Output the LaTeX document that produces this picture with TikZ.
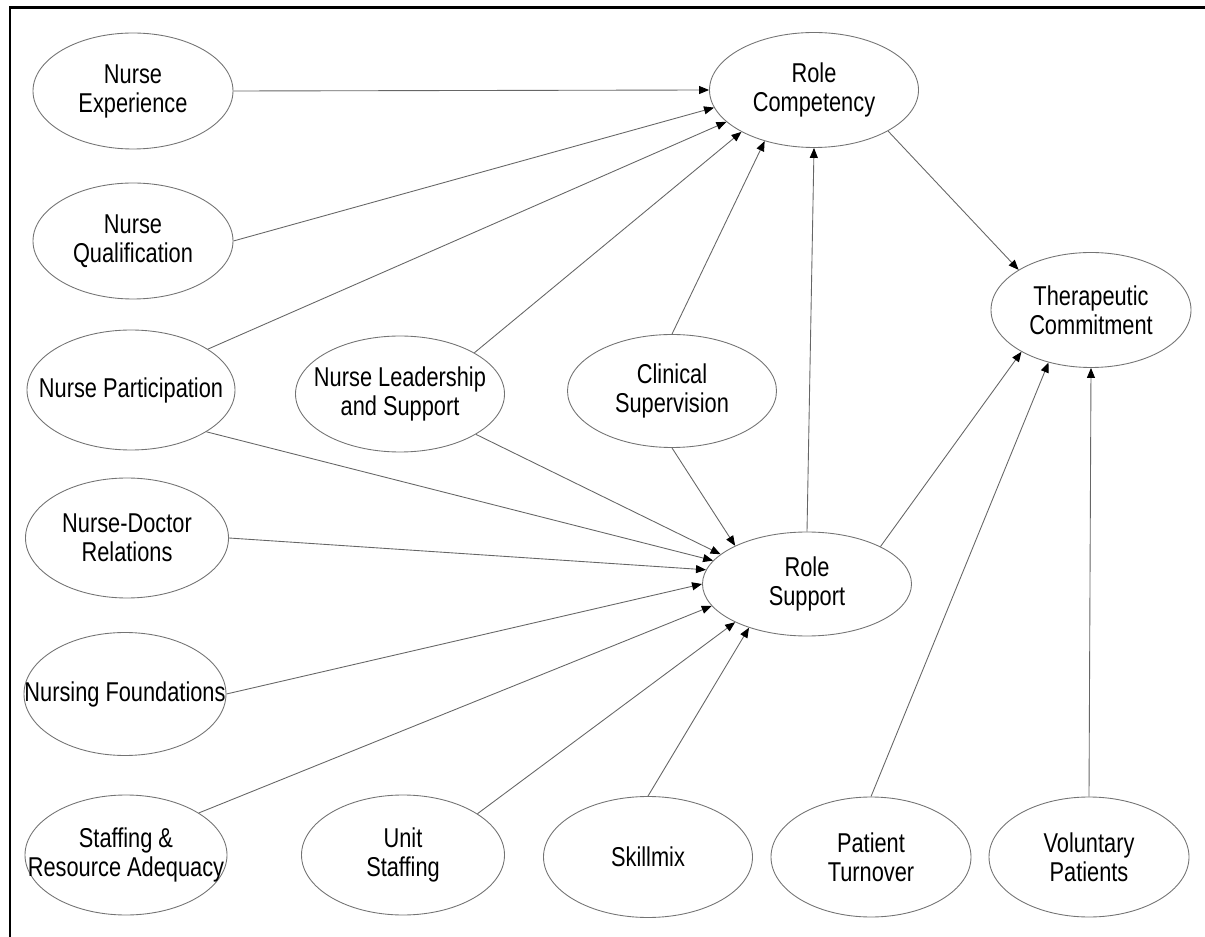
\documentclass[tikz,border=0pt]{standalone}
\usepackage{fontspec}
\setmainfont{Liberation Sans}[FakeStretch=0.8]
\usetikzlibrary{shapes.geometric,arrows.meta}

\tikzset{
  factor/.style={
    draw=black!55,
    line width=0.5pt,
    ellipse,
    inner xsep=-10mm,
    inner ysep=0pt,
    minimum width=40mm,
    minimum height=23.2mm,
    align=center,
    font=\fontsize{15.5}{16.5}\selectfont
  },
  wide factor/.style={
    factor,
    minimum width=41.8mm
  },
  link/.style={
    draw=black!60,
    line width=0.5pt,
    -{Triangle[length=2mm,width=1.6mm,color=black]}
  }
}

\begin{document}
\begin{tikzpicture}[x=0.2mm,y=-0.2mm]
    \useasboundingbox (0,0) rectangle (1205,937);
    \draw[line width=1.3pt] (10,937) |- (1205,7.5);

    % left column
    \node[factor] at (133,91) (ne) {Nurse\\Experience};
    \node[factor] at (133,241) (nq) {Nurse\\Qualification};
    \node[factor, minimum width=41.6mm, minimum height=24mm] at (131,390) (np) {Nurse Participation};
    \node[factor, minimum width=40.6mm, minimum height=24mm] at (127,538) (nd) {Nurse-Doctor\\Relations};
    \node[factor, minimum width=40.4mm, minimum height=24.6mm] at (125,694) (nf) {Nursing Foundations};
    \node[factor, minimum width=40.4mm, minimum height=24mm] at (126,855) (sra) {Staffing \&\\Resource Adequacy};

    % bottom row
    \node[factor, minimum width=40.6mm, minimum height=24mm] at (403,855) (us) {Unit\\Staffing};
    \node[wide factor, minimum height=24.2mm] at (648,857) (sk) {Skillmix};
    \node[factor, minimum height=24mm] at (871,857) (pt) {Patient\\Turnover};
    \node[factor, minimum height=24mm] at (1089,857) (vp) {Voluntary\\Patients};

    % middle
    \node[wide factor] at (400,394) (nl) {Nurse Leadership\\and Support};
    \node[wide factor, minimum height=22.6mm] at (672,391) (cs) {Clinical\\Supervision};
    \node[wide factor, minimum height=23mm] at (814,90) (rc) {Role\\Competency};
    \node[wide factor, minimum height=20.8mm] at (807,584) (rs) {Role\\Support};
    \node[factor, minimum height=23mm] at (1091,310) (tc) {Therapeutic\\Commitment};

    % into role competency
    \path
      (ne.east) edge[link] (rc.west)
      (nq.east) edge[link] (rc.190)
      (np.28) edge[link] (rc.200)
      (nl.29) edge[link] (rc.210)
      (cs.north) edge[link] (rc.226)
      (rs.north) edge[link] (rc.south);

    % into role support
    \path
      (cs.south) edge[link] (rs.152)
      (nl.-28) edge[link] (rs.161)
      (np.-29) edge[link] (rs.166)
      (nd.east) edge[link] (rs.172)
      (nf.east) edge[link] (rs.west)
      (sra.30) edge[link] (rs.193)
      (us.29) edge[link] (rs.208)
      (sk.north) edge[link] (rs.217);

    % into therapeutic commitment
    \path
      (rc.-29) edge[link] (tc.151)
      (rs.27) edge[link] (tc.211)
      (pt.north) edge[link] (tc.231)
      (vp.north) edge[link] (tc.south);
\end{tikzpicture}
\end{document}
